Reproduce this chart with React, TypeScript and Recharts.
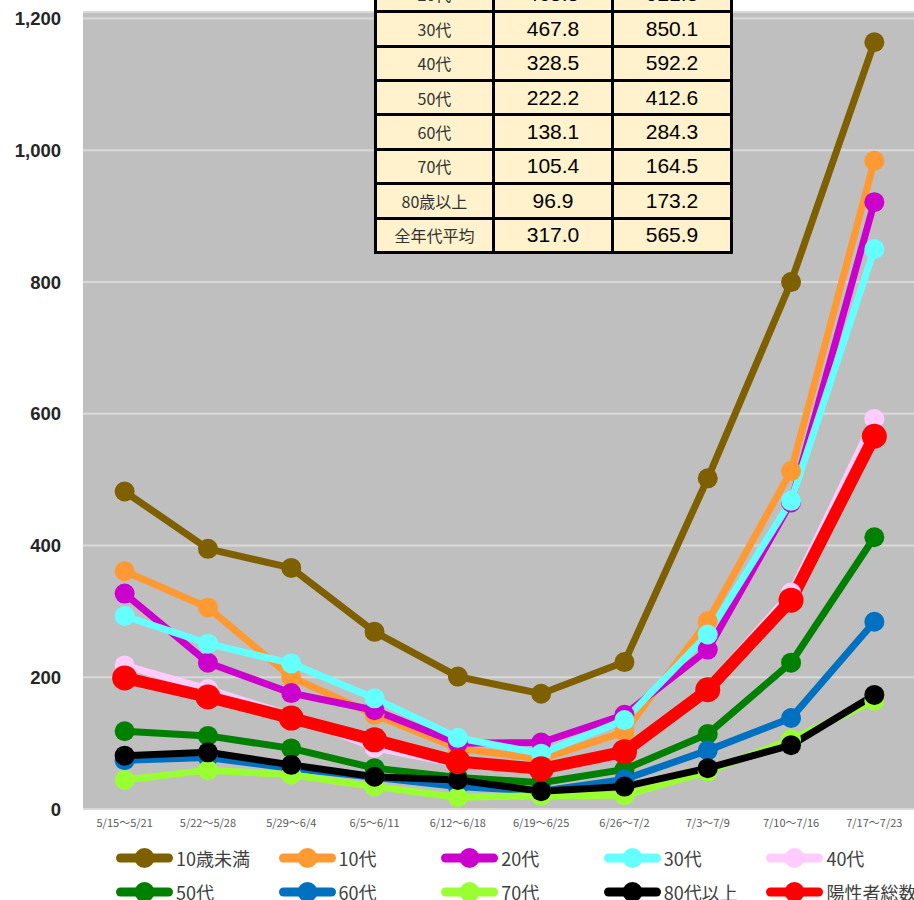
import React from 'react';
import { LineChart, Line, XAxis, YAxis, CartesianGrid } from 'recharts';

const weeks = ['5/15～5/21', '5/22～5/28', '5/29～6/4', '6/5～6/11', '6/12～6/18', '6/19～6/25', '6/26～7/2', '7/3～7/9', '7/10～7/16', '7/17～7/23'];

const under10 = [482, 395, 366, 269, 201, 175, 223, 502, 800, 1164];
const teens = [361, 306, 200, 143, 92, 76, 117, 285, 513, 984];
const twenties = [327, 222, 176, 150, 100, 101, 143, 242, 465.5, 921.3];
const thirties = [293, 251, 221, 168, 108, 84, 135, 265, 467.8, 850.1];
const forties = [218, 182, 142, 93, 68, 58, 86, 185, 328.5, 592.2];
const fifties = [118, 111, 92, 62, 48, 40, 60, 114, 222.2, 412.6];
const sixties = [74, 78, 62, 48, 34, 27, 45, 89, 138.1, 284.3];
const seventies = [44, 59, 52, 34, 18, 20, 21, 57, 105.4, 164.5];
const over80 = [81, 86, 67, 49, 44, 27, 34, 62, 96.9, 173.2];
const total = [199, 170, 138, 105, 72, 61, 87, 181, 317.0, 565.9];

const yTicks = [0, 200, 400, 600, 800, 1000, 1200];

const series = [
  { key: 'u10', name: '10歳未満', color: '#7f6000', values: under10 },
  { key: 'a10', name: '10代', color: '#ff9933', values: teens },
  { key: 'a20', name: '20代', color: '#cc00cc', values: twenties },
  { key: 'a30', name: '30代', color: '#66ffff', values: thirties },
  { key: 'a40', name: '40代', color: '#ffccff', values: forties },
  { key: 'a50', name: '50代', color: '#008000', values: fifties },
  { key: 'a60', name: '60代', color: '#0070c0', values: sixties },
  { key: 'a70', name: '70代', color: '#99ff33', values: seventies },
  { key: 'a80', name: '80代以上', color: '#000000', values: over80 },
  { key: 'tot', name: '陽性者総数', color: '#ff0000', values: total },
];

// table rows: label + which series supplies the last two weeks
const tableLabels = ['10歳未満', '10代', '20代', '30代', '40代', '50代', '60代', '70代', '80歳以上', '全年代平均'];

const data = weeks.map((w, i) => {
  const row: Record<string, string | number> = { week: w };
  series.forEach((s) => { row[s.key] = s.values[i]; });
  return row;
});

const cellStyle = (size: number, color: string, family: string): React.CSSProperties => ({
  background: '#fff2cc',
  display: 'flex',
  alignItems: 'center',
  justifyContent: 'center',
  fontSize: size,
  color,
  fontFamily: family,
});

const SummaryTable = () => {
  const rowH = 31.4;
  const gap = 3;
  return (
    <div
      style={{
        position: 'absolute',
        left: 374,
        top: 254 - (tableLabels.length * rowH + (tableLabels.length + 1) * gap),
        background: '#000',
        padding: gap,
        display: 'grid',
        gridTemplateColumns: '115px 116px 116px',
        gridAutoRows: rowH + 'px',
        gap: gap,
        zIndex: 2,
      }}
    >
      {tableLabels.map((label, i) => {
        const vals = series[i].values;
        return (
          <React.Fragment key={label}>
            <div style={cellStyle(16, '#333', "'Noto Sans CJK JP', sans-serif")}>{label}</div>
            <div style={cellStyle(21, '#000', "'Liberation Sans', Arial, sans-serif")}>{vals[vals.length - 2].toFixed(1)}</div>
            <div style={cellStyle(21, '#000', "'Liberation Sans', Arial, sans-serif")}>{vals[vals.length - 1].toFixed(1)}</div>
          </React.Fragment>
        );
      })}
    </div>
  );
};

const LegendBlock = () => (
  <div style={{ position: 'absolute', left: 0, top: 0 }}>
    {series.map((s, i) => {
      const left = 116 + (i % 5) * 162.6;
      const cy = 858 + Math.floor(i / 5) * 34;
      return (
        <div key={s.key} style={{ position: 'absolute', left, top: cy - 14, height: 28, display: 'flex', alignItems: 'center', whiteSpace: 'nowrap' }}>
          <svg width={57} height={28} style={{ display: 'block' }}>
            <line x1={4.5} y1={14} x2={52.5} y2={14} stroke={s.color} strokeWidth={9} strokeLinecap="round" />
            <circle cx={28.5} cy={14} r={10} fill={s.color} />
          </svg>
          <span style={{ marginLeft: 3, fontSize: 18, lineHeight: '28px', color: '#404040', fontFamily: "'Noto Sans CJK JP', sans-serif" }}>{s.name}</span>
        </div>
      );
    })}
  </div>
);

export default function App() {
  return (
    <div style={{ position: 'fixed', left: 0, top: 0, width: 914, height: 900, overflow: 'hidden', background: '#fff' }}>
      <LineChart width={916} height={845} data={data} margin={{ top: 12, right: 0, left: 0, bottom: 0 }}>
        <CartesianGrid vertical={false} fill="#bfbfbf" stroke="#d9d9d9" strokeWidth={2} />
        <XAxis
          dataKey="week"
          height={36}
          padding={{ left: 41.65, right: 41.65 }}
          tickLine={false}
          tickSize={0}
          tickMargin={10}
          axisLine={{ stroke: '#d9d9d9', strokeWidth: 2 }}
          interval={0}
          tick={{ fontSize: 11, fill: '#595959', fontFamily: "'Noto Sans CJK JP', sans-serif" }}
        />
        <YAxis
          width={83}
          domain={[0, 1210]}
          ticks={yTicks}
          allowDataOverflow
          axisLine={false}
          tickLine={false}
          tickSize={0}
          tickMargin={22}
          tickFormatter={(v: number) => v.toLocaleString('en-US')}
          tick={{ fontSize: 18.5, fontWeight: 'bold', fill: '#262626', fontFamily: "'Liberation Sans', Arial, sans-serif" }}
        />
        {series.map((s) => {
          const big = s.key === 'tot';
          return (
            <Line
              key={s.key}
              type="linear"
              dataKey={s.key}
              name={s.name}
              stroke={s.color}
              strokeWidth={big ? 12 : 7}
              dot={{ r: big ? 12.5 : 10, fill: s.color, stroke: 'none' }}
              activeDot={false}
              isAnimationActive={false}
            />
          );
        })}
      </LineChart>
      <SummaryTable />
      <LegendBlock />
    </div>
  );
}
